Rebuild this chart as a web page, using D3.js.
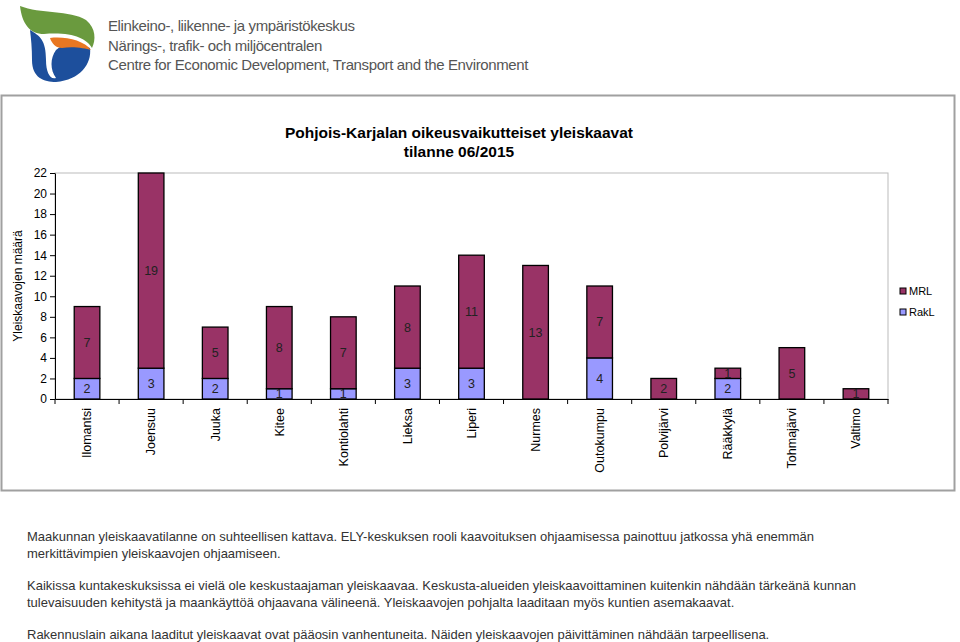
<!DOCTYPE html>
<html>
<head>
<meta charset="utf-8">
<script src="https://cdn.jsdelivr.net/npm/d3@7"></script>
<style>
  body { margin: 0; background: #fff; }
  svg { display: block; font-family: "Liberation Sans", Arial, sans-serif; }
</style>
</head>
<body>
<svg id="chart" width="960" height="642"></svg>
<script>
// data
var kunnat = ["Ilomantsi", "Joensuu", "Juuka", "Kitee", "Kontiolahti", "Lieksa", "Liperi",
              "Nurmes", "Outokumpu", "Polvijärvi", "Rääkkylä", "Tohmajärvi", "Valtimo"];
var rakL = [2, 3, 2, 1, 1, 3, 3, 0, 4, 0, 2, 0, 0];
var mrl  = [7, 19, 5, 8, 7, 8, 11, 13, 7, 2, 1, 5, 1];
var yTicks = [0, 2, 4, 6, 8, 10, 12, 14, 16, 18, 20, 22];
var seriesNames = ["MRL", "RakL"];
var colours = {"MRL": "#993366", "RakL": "#9999ff"};

var logoLines = ["Elinkeino-, liikenne- ja ympäristökeskus",
                 "Närings-, trafik- och miljöcentralen",
                 "Centre for Economic Development, Transport and the Environment"];
var noteLines = [
  ["Maakunnan yleiskaavatilanne on suhteellisen kattava. ELY-keskuksen rooli kaavoituksen ohjaamisessa painottuu jatkossa yhä enemmän",
   "merkittävimpien yleiskaavojen ohjaamiseen."],
  ["Kaikissa kuntakeskuksissa ei vielä ole keskustaajaman yleiskaavaa. Keskusta-alueiden yleiskaavoittaminen kuitenkin nähdään tärkeänä kunnan",
   "tulevaisuuden kehitystä ja maankäyttöä ohjaavana välineenä. Yleiskaavojen pohjalta laaditaan myös kuntien asemakaavat."],
  ["Rakennuslain aikana laaditut yleiskaavat ovat pääosin vanhentuneita. Näiden yleiskaavojen päivittäminen nähdään tarpeellisena."]
];

var data = kunnat.map(function(k, i) { return {kunta: k, RakL: rakL[i], MRL: mrl[i]}; });
var stack = d3.stack().keys(["RakL", "MRL"])(data);

var svg = d3.select("#chart");

//Logo
var logo = svg.append("g");
logo.append("path")
    .attr("d", "M20,6 C40,14 70,10 86,20 C96,28 96,40 92,48 C86,38 72,32 44,34 C30,34 22,24 20,6 Z")
    .attr("fill", "#6a9a3e");
logo.append("path")
    .attr("d", "M30,30 C40,36 46,40 46,60 C46,72 50,80 56,78 C50,70 50,58 56,50 C62,44 74,42 90,48 C92,64 80,80 56,82 C44,82 32,78 32,60 C32,48 31,38 30,30 Z")
    .attr("fill", "#1d4f9c");
logo.append("path")
    .attr("d", "M50,38 C64,36 84,40 91,50 C85,48 72,46 62,48 C56,48 52,44 50,38 Z")
    .attr("fill", "#e87722");
logo.selectAll("text.logo")
    .data(logoLines)
    .enter()
    .append("text")
    .attr("class", "logo")
    .attr("x", 108)
    .attr("y", function(d, i) { return 31 + i * 19.5; })
    .style("font-size", "15px")
    .style("fill", "#555")
    .style("letter-spacing", "-0.38px")
    .text(function(d) { return d; });

//Chart frame
svg.append("rect")
    .attr("x", 1.5).attr("y", 95.5)
    .attr("width", 953).attr("height", 395)
    .attr("fill", "#fff")
    .attr("stroke", "#a0a0a0")
    .attr("stroke-width", 2);

//Scales
var x = d3.scaleBand()
    .domain(kunnat)
    .range([55, 888])
    .paddingInner(0.6)
    .paddingOuter(0.3);
var y = d3.scaleLinear()
    .domain([0, 22])
    .range([399, 173]);

//Plot area border
svg.append("rect")
    .attr("x", 55).attr("y", y(22))
    .attr("width", 888 - 55).attr("height", y(0) - y(22))
    .attr("fill", "none")
    .attr("stroke", "#bbb");

//Bars
var layers = svg.selectAll("g.layer")
    .data(stack)
    .enter()
    .append("g")
    .attr("class", "layer")
    .attr("fill", function(d) { return colours[d.key]; });
layers.selectAll("rect")
    .data(function(d) { return d.filter(function(s) { return s[1] > s[0]; }); })
    .enter()
    .append("rect")
    .attr("x", function(d) { return x(d.data.kunta); })
    .attr("y", function(d) { return y(d[1]); })
    .attr("width", x.bandwidth())
    .attr("height", function(d) { return y(d[0]) - y(d[1]); })
    .attr("stroke", "#000")
    .attr("stroke-width", 1.3);

//Data labels
layers.selectAll("text")
    .data(function(d) { return d.filter(function(s) { return s[1] > s[0]; }); })
    .enter()
    .append("text")
    .attr("x", function(d) { return x(d.data.kunta) + x.bandwidth() / 2; })
    .attr("y", function(d) { return y((d[0] + d[1]) / 2) + 4.5; })
    .attr("text-anchor", "middle")
    .style("font-size", "12.5px")
    .style("fill", "#222")
    .text(function(d) { return d[1] - d[0]; });

//Y axis
var yAxis = svg.append("g")
    .attr("transform", "translate(55,0)")
    .call(d3.axisLeft(y).tickValues(yTicks).tickSize(5).tickSizeOuter(0));
yAxis.select(".domain").attr("stroke", "#000");
yAxis.selectAll("text").style("font-size", "12px").style("fill", "#000")
    .style("font-family", "Liberation Sans, Arial, sans-serif");

//X axis
var xAxis = svg.append("g")
    .attr("transform", "translate(0," + y(0) + ")")
    .call(d3.axisBottom(x).tickSize(0).tickSizeOuter(0));
xAxis.select(".domain").attr("stroke", "#000");
xAxis.selectAll("text")
    .attr("transform", "rotate(-90)")
    .attr("x", -9)
    .attr("y", 0)
    .attr("dy", "0.35em")
    .attr("text-anchor", "end")
    .style("font-size", "12.5px")
    .style("fill", "#000")
    .style("font-family", "Liberation Sans, Arial, sans-serif");
// tick marks between categories
xAxis.selectAll("line.sep")
    .data(d3.range(kunnat.length + 1))
    .enter()
    .append("line")
    .attr("class", "sep")
    .attr("x1", function(i) { return 55 + i * x.step(); })
    .attr("x2", function(i) { return 55 + i * x.step(); })
    .attr("y1", 0).attr("y2", 5)
    .attr("stroke", "#000");

//Y axis title
svg.append("text")
    .attr("transform", "translate(22," + ((y(0) + y(22)) / 2) + ") rotate(-90)")
    .attr("text-anchor", "middle")
    .style("font-size", "12px")
    .text("Yleiskaavojen määrä");

//Chart title
svg.append("text")
    .attr("x", 459).attr("y", 138)
    .attr("text-anchor", "middle")
    .style("font-size", "15.5px")
    .style("font-weight", "bold")
    .text("Pohjois-Karjalan oikeusvaikutteiset yleiskaavat");
svg.append("text")
    .attr("x", 459).attr("y", 157)
    .attr("text-anchor", "middle")
    .style("font-size", "15.5px")
    .style("font-weight", "bold")
    .text("tilanne 06/2015");

//Legend
var legend = svg.selectAll("g.legend")
    .data(seriesNames)
    .enter()
    .append("g")
    .attr("class", "legend")
    .attr("transform", function(d, i) { return "translate(900," + (288 + i * 21) + ")"; });
legend.append("rect")
    .attr("width", 6).attr("height", 6)
    .attr("fill", function(d) { return colours[d]; })
    .attr("stroke", "#000");
legend.append("text")
    .attr("x", 9).attr("y", 7)
    .style("font-size", "11px")
    .text(function(d) { return d; });

//Notes below the chart
var y0 = 541;
noteLines.forEach(function(par) {
    par.forEach(function(line) {
        svg.append("text")
            .attr("x", 27).attr("y", y0)
            .style("font-size", "13px")
            .style("fill", "#333")
            .text(line);
        y0 += 16.5;
    });
    y0 += 16;
});
</script>
</body>
</html>
